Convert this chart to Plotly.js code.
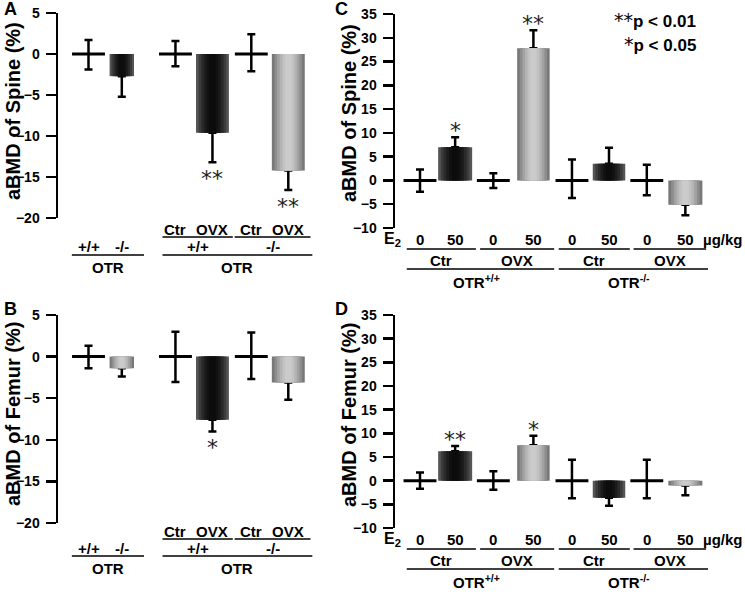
<!DOCTYPE html>
<html>
<head>
<meta charset="utf-8">
<script src="https://cdn.plot.ly/plotly-3.0.1.min.js"></script>
<style>
  html, body { margin: 0; padding: 0; background: #fff; }
  #fig { width: 745px; height: 592px; }
</style>
</head>
<body>
<div id="fig"></div>
<script>
// aBMD change (%); control groups sit at 0 with SEM both ways,
// treated groups only show the outward half of the error bar.

// --- A / B: OTR+/+ vs OTR-/- , then Ctr / OVX within each genotype
const spineA = [0, -2.7, 0, -9.6, 0, -14.2];
const spineAUp = [1.7, 0, 1.6, 0, 2.4, 0];
const spineADown = [1.9, 2.5, 1.5, 3.6, 2.1, 2.4];
const spineAStars = ["", "", "", "**", "", "**"];

const femurB = [0, -1.4, 0, -7.6, 0, -3.1];
const femurBUp = [1.3, 0, 3.0, 0, 2.9, 0];
const femurBDown = [1.4, 1.0, 3.05, 1.4, 2.7, 2.1];
const femurBStars = ["", "", "", "*", "", ""];

// --- C / D: E2 0 / 50 µg/kg in Ctr and OVX, for OTR+/+ then OTR-/-
const spineC = [0, 7.0, 0, 27.8, 0, 3.5, 0, -5.1];
const spineCUp = [2.3, 2.1, 1.5, 3.8, 4.4, 3.4, 3.3, 0];
const spineCDown = [2.4, 0, 1.6, 0, 3.7, 0, 3.1, 2.2];
const spineCStars = ["", "*", "", "**", "", "", "", ""];

const femurD = [0, 6.2, 0, 7.5, 0, -3.6, 0, -1.0];
const femurDUp = [1.7, 1.1, 2.0, 2.0, 4.4, 0, 4.4, 0];
const femurDDown = [1.7, 0, 1.9, 0, 3.7, 1.7, 3.7, 2.1];
const femurDStars = ["", "**", "", "*", "", "", "", ""];

// category text
const otrGenotypes = ["+/+", "-/-"];
const surgery = ["Ctr", "OVX"];
const e2Dose = ["0", "50"];
const otrLabels = ["OTR<sup>+/+</sup>", "OTR<sup>-/-</sup>"];

// ---------------------------------------------------------------- styling
const FONT = "Liberation Sans, Arial, Helvetica, sans-serif";
const STAR_FONT = "DejaVu Sans, sans-serif";
const W = 745, H = 592;
const px = (x) => x / W;
const py = (y) => 1 - y / H;

// bar shade per slot: "" = control line, k = black, g = gray
const toneA = ["", "k", "", "k", "", "g"];
const toneB = ["", "g", "", "k", "", "g"];
const toneCD = ["", "k", "", "g", "", "k", "", "g"];

// slot centres along x (in bar units) and how wide each bar is
const slotsAB = [0, 0.9, 2.35, 3.35, 4.4, 5.4];
const widthAB = [0.89, 0.66, 0.89, 0.89, 0.89, 0.89];
const slotsCD = [0, 0.93, 1.94, 3, 4.02, 5, 6, 7.02];
const widthCD = [0.88, 0.9, 0.88, 0.86, 0.88, 0.86, 0.88, 0.9];

// horizontal gradient faked with nested bars, outer -> inner
const LAYERS = [1, 0.84, 0.68, 0.52, 0.36, 0.2];
const SHADES = {
  k: ["#555555", "#3c3c3c", "#2a2a2a", "#1c1c1c", "#121212", "#0c0c0c"],
  g: ["#787878", "#8d8d8d", "#a2a2a2", "#b4b4b4", "#c2c2c2", "#cbcbcb"],
};

// label rows under each panel (px): row1 text, line1, row2 text, line2, row3 text
const panels = [
  { key: "A", ax: "", vals: spineA, up: spineAUp, down: spineADown, stars: spineAStars,
    tone: toneA, slots: slotsAB, widths: widthAB, range: [-20, 5],
    frame: { x0: 58, x1: 320, top: 13, bottom: 218, c0: 88.5, u: 37 },
    rows: [229, 237, 246, 255, 267],
    title: "aBMD of Spine (%)", titleX: 13, titleY: 111, letterX: 10, letterY: 9 },
  { key: "B", ax: "2", vals: femurB, up: femurBUp, down: femurBDown, stars: femurBStars,
    tone: toneB, slots: slotsAB, widths: widthAB, range: [-20, 5],
    frame: { x0: 58, x1: 320, top: 315, bottom: 523, c0: 88.5, u: 37 },
    rows: [531, 539, 548, 556, 568],
    title: "aBMD of Femur (%)", titleX: 13, titleY: 414, letterX: 10, letterY: 309 },
  { key: "C", ax: "3", vals: spineC, up: spineCUp, down: spineCDown, stars: spineCStars,
    tone: toneCD, slots: slotsCD, widths: widthCD, range: [-10, 35],
    frame: { x0: 395, x1: 715, top: 14, bottom: 228, c0: 420, u: 37.8 },
    rows: [239, 249, 260, 269, 281],
    title: "aBMD of Spine (%)", titleX: 349, titleY: 113, letterX: 341, letterY: 9 },
  { key: "D", ax: "4", vals: femurD, up: femurDUp, down: femurDDown, stars: femurDStars,
    tone: toneCD, slots: slotsCD, widths: widthCD, range: [-10, 35],
    frame: { x0: 395, x1: 715, top: 315, bottom: 528, c0: 420, u: 37.8 },
    rows: [539, 549, 560, 569, 581],
    title: "aBMD of Femur (%)", titleX: 349, titleY: 415, letterX: 341, letterY: 309 },
];

const errStyle = { type: "data", symmetric: false, color: "#000", thickness: 2.5, width: 4 };

const traces = [];
const annotations = [];
const shapes = [];
const layout = {
  width: W, height: H,
  margin: { l: 0, r: 0, t: 0, b: 0 },
  paper_bgcolor: "#fff", plot_bgcolor: "rgba(0,0,0,0)",
  showlegend: false,
  barmode: "overlay",
  font: { family: FONT, color: "#000", size: 15 },
  annotations, shapes,
};

function label(text, x, xref, y, size) {
  annotations.push({
    text, x, xref, y: py(y), yref: "paper", showarrow: false,
    xanchor: "center", yanchor: "middle",
    font: { family: FONT, size: size || 15, weight: "bold", color: "#000" },
  });
}
function hline(x0, x1, xref, y) {
  shapes.push({ type: "line", xref, x0, x1, yref: "paper", y0: py(y), y1: py(y),
    line: { color: "#000", width: 1.6 } });
}

for (const p of panels) {
  const f = p.frame;
  const xa = "x" + p.ax, ya = "y" + p.ax;
  const bars = p.vals.map((v, i) => i).filter((i) => p.tone[i] !== "");
  const ctrl = p.vals.map((v, i) => i).filter((i) => p.tone[i] === "");

  LAYERS.forEach((k, li) => {
    traces.push({
      type: "bar", xaxis: xa, yaxis: ya,
      x: bars.map((i) => p.slots[i]),
      y: bars.map((i) => p.vals[i]),
      width: bars.map((i) => p.widths[i] * k),
      marker: { color: bars.map((i) => SHADES[p.tone[i]][li]), line: { width: 0 } },
      error_y: li === 0
        ? { ...errStyle, array: bars.map((i) => p.up[i]), arrayminus: bars.map((i) => p.down[i]) }
        : { visible: false },
      hoverinfo: "skip",
    });
  });

  traces.push({
    type: "scatter", mode: "markers", xaxis: xa, yaxis: ya,
    x: ctrl.map((i) => p.slots[i]),
    y: ctrl.map((i) => p.vals[i]),
    marker: { symbol: "line-ew", size: 23.5, color: "#000", line: { color: "#000", width: 3 } },
    error_y: { ...errStyle, array: ctrl.map((i) => p.up[i]), arrayminus: ctrl.map((i) => p.down[i]) },
    hoverinfo: "skip",
  });

  layout["xaxis" + p.ax] = {
    domain: [px(f.x0), px(f.x1)],
    range: [(f.x0 - f.c0) / f.u, (f.x1 - f.c0) / f.u],
    visible: false, fixedrange: true, anchor: ya,
  };
  layout["yaxis" + p.ax] = {
    domain: [py(f.bottom), py(f.top)],
    range: p.range, dtick: 5, tick0: 0,
    showline: true, linewidth: 2.5, linecolor: "#000",
    ticks: "outside", ticklen: 10, tickwidth: 2.5, tickcolor: "#000",
    ticklabelstandoff: 3,
    tickfont: { family: FONT, size: 14, weight: "bold", color: "#000" },
    showgrid: false, zeroline: false, fixedrange: true, anchor: xa,
  };

  // significance stars just past the error bar end
  p.stars.forEach((s, i) => {
    if (!s) return;
    const pos = p.vals[i] >= 0;
    annotations.push({
      text: s, xref: xa, yref: ya, x: p.slots[i],
      y: pos ? p.vals[i] + p.up[i] : p.vals[i] - p.down[i],
      yanchor: pos ? "bottom" : "top", yshift: pos ? -8 : -2,
      showarrow: false,
      font: { family: STAR_FONT, size: 22, color: "#222" },
    });
  });

  // axis title, panel letter
  annotations.push({
    text: p.title, xref: "paper", yref: "paper", x: px(p.titleX), y: py(p.titleY),
    textangle: -90, showarrow: false, xanchor: "center", yanchor: "middle",
    font: { family: FONT, size: 20, weight: "bold", color: "#000" },
  });
  label(p.key, px(p.letterX), "paper", p.letterY, 18);
}

// ---- category labels under A and B
for (const p of panels.slice(0, 2)) {
  const s = p.slots, xa = "x" + p.ax;
  const [row1, line1, row2, line2, row3] = p.rows;
  // genotype pair on the left
  label(otrGenotypes[0], s[0], xa, row2);
  label(otrGenotypes[1], s[1], xa, row2);
  const g0 = s[0] - 0.45, g1 = s[1] + 0.6;
  hline(g0, g1, xa, line2);
  label("OTR", (g0 + g1) / 2, xa, row3);
  // surgery within genotype on the right
  [[2, 3, 0.35, 0.55], [4, 5, 0.45, 0.6]].forEach(([a, b, pl, pr], k) => {
    label(surgery[0], s[a], xa, row1);
    label(surgery[1], s[b], xa, row1);
    const l0 = s[a] - pl, l1 = s[b] + pr;
    hline(l0, l1, xa, line1);
    label(otrGenotypes[k], (l0 + l1) / 2, xa, row2);
  });
  const o0 = s[2] - 0.35, o1 = s[5] + 0.65;
  hline(o0, o1, xa, line2);
  label("OTR", (o0 + o1) / 2, xa, row3);
}

// ---- dose / surgery / genotype labels under C and D
for (const p of panels.slice(2)) {
  const s = p.slots, xa = "x" + p.ax;
  const [row1, line1, row2, line2, row3] = p.rows;
  label("E<sub>2</sub>", px(392), "paper", row1, 16);
  label("µg/kg", px(722), "paper", row1, 15);
  s.forEach((x, i) => label(e2Dose[i % 2], x, xa, row1));
  for (let k = 0; k < 4; k++) {
    const l0 = s[2 * k] - 0.35, l1 = s[2 * k + 1] + 0.55;
    hline(l0, l1, xa, line1);
    label(surgery[k % 2], (l0 + l1) / 2, xa, row2);
  }
  for (let k = 0; k < 2; k++) {
    const l0 = s[4 * k] - 0.35, l1 = s[4 * k + 3] + 0.55 + 0.05 * k;
    hline(l0, l1, xa, line2);
    label(otrLabels[k], (s[4 * k] + s[4 * k + 3]) / 2, xa, row3);
  }
}

// p-value key, top right of C
annotations.push(
  { text: '<span style="font-family:DejaVu Sans;font-weight:normal;font-size:19px">**</span>p < 0.01',
    xref: "paper", yref: "paper", x: px(698), y: py(20), xanchor: "right", yanchor: "middle",
    showarrow: false, font: { family: FONT, size: 17, weight: "bold", color: "#000" } },
  { text: '<span style="font-family:DejaVu Sans;font-weight:normal;font-size:19px">*</span>p < 0.05',
    xref: "paper", yref: "paper", x: px(698), y: py(44), xanchor: "right", yanchor: "middle",
    showarrow: false, font: { family: FONT, size: 17, weight: "bold", color: "#000" } }
);

Plotly.newPlot("fig", traces, layout, { displayModeBar: false, staticPlot: true });
</script>
</body>
</html>
